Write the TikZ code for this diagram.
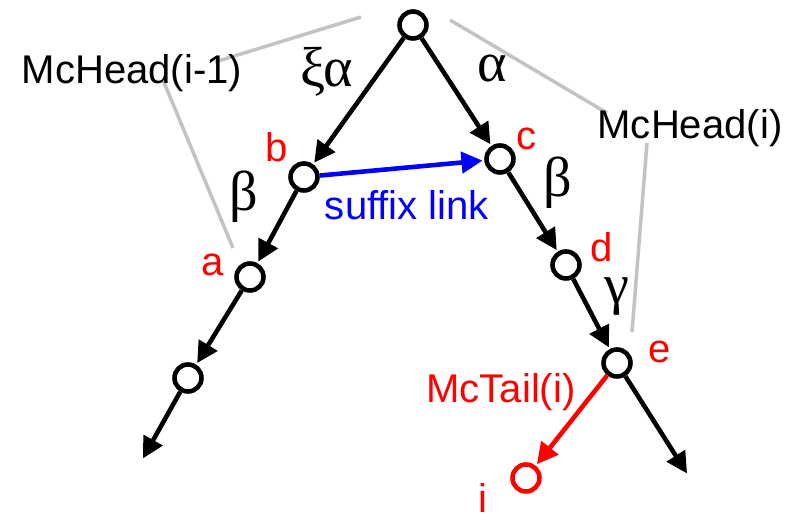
\documentclass[tikz,border=0pt]{standalone}
\usepackage{fontspec}
\setmainfont{Liberation Sans}
\newfontfamily\greekfont{Liberation Serif}
\usetikzlibrary{arrows.meta, positioning}
\definecolor{linkblue}{RGB}{0, 0, 255}
\definecolor{tailred}{RGB}{255, 0, 0}
\definecolor{headgray}{RGB}{195, 195, 195}

\begin{document}
\begin{tikzpicture}[
  x=1cm, y=1cm,
  vertex/.style={circle, draw=black, line width=1.3pt, fill=white, inner sep=0pt, minimum size=0.27cm},
  vertex_red/.style={vertex, draw=tailred},
  lbl/.style={font=\fontsize{11.4}{12}\selectfont, inner sep=0pt},
  lbl_red/.style={lbl, text=tailred},
  lbl_blue/.style={lbl, text=linkblue},
  greek/.style={font=\fontsize{16}{18}\selectfont\greekfont, inner sep=0pt},
  arr/.style={-{Triangle[length=6pt, width=6pt]}, line width=1.3pt, shorten >=0.5pt},
  arr_blue/.style={arr, color=linkblue},
  arr_red/.style={arr, color=tailred},
  guide/.style={line width=1pt, color=headgray}
]
\useasboundingbox (0, 0) rectangle (7.96, 5.2);

% McHead guides
\coordinate (h1a) at (3.61, 5.03);
\coordinate (h1b) at (2.15, 4.58);
\coordinate (h1c) at (1.63, 4.40);
\coordinate (h1d) at (2.33, 2.72);
\coordinate (h2a) at (4.50, 5.00);
\coordinate (h2b) at (6.07, 4.07);
\coordinate (h2c) at (6.47, 3.77);
\coordinate (h2d) at (6.32, 1.88);
\draw[guide] (h1a) -- (h1b);
\draw[guide] (h1c) -- (h1d);
\draw[guide] (h2a) -- (h2b);
\draw[guide] (h2c) -- (h2d);

% Tree nodes
\node[vertex] (root) at (4.13, 4.95) {};
\node[vertex] (b) at (3.04, 3.43) {};
\node[vertex] (c) at (5.00, 3.61) {};
\node[vertex] (a) at (2.50, 2.43) {};
\node[vertex] (d) at (5.66, 2.55) {};
\node[vertex] (low) at (1.88, 1.42) {};
\node[vertex] (e) at (6.17, 1.57) {};
\node[vertex_red] (i) at (5.26, 0.42) {};
\coordinate (leftend) at (1.42, 0.60);
\coordinate (rightend) at (6.88, 0.45);

% Labels
\node[lbl] (headprev) at (1.32, 4.47) {McHead(i-1)};
\node[lbl] (headcur) at (6.90, 3.92) {McHead(i)};
\node[lbl_red] (tail) at (5.01, 1.28) {McTail(i)};
\node[lbl_blue] (sl) at (4.07, 3.15) {suffix link};
\node[lbl_red] at (2.77, 3.73) {b};
\node[lbl_red] at (5.27, 3.81) {c};
\node[lbl_red] at (6.02, 2.73) {d};
\node[lbl_red] at (6.60, 1.68) {e};
\node[lbl_red] at (2.13, 2.55) {a};
\node[lbl_red] at (4.83, 0.22) {i};
\node[greek] at (3.27, 4.48) {ξα};
\node[greek] at (4.92, 4.51) {α};
\node[greek] at (2.44, 3.23) {β};
\node[greek] at (5.58, 3.37) {β};
\node[greek] at (6.17, 2.23) {γ};

% Edges
\draw[arr] (root) -- (b);
\draw[arr] (root) -- (c);
\draw[arr] (b) -- (a);
\draw[arr] (a) -- (low);
\draw[arr] (low) -- (leftend);
\draw[arr] (c) -- (d);
\draw[arr] (d) -- (e);
\draw[arr] (e) -- (rightend);
\draw[arr_red] (e) -- (i);
\draw[arr_blue] (b) -- (c);

\end{tikzpicture}
\end{document}
